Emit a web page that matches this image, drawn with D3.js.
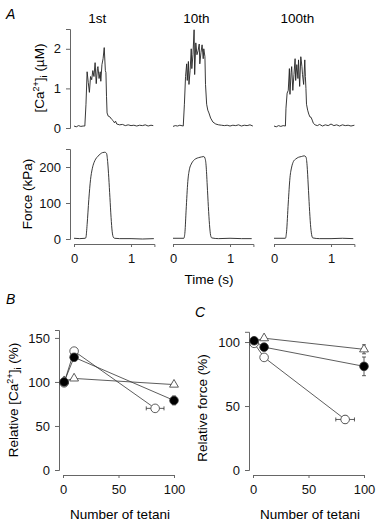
<!DOCTYPE html>
<html>
<head>
<meta charset="utf-8">
<script src="https://cdn.jsdelivr.net/npm/d3@7"></script>
<style>
  body { margin: 0; background: #fff; }
  svg { font-family: "Liberation Sans", Arial, sans-serif; }
  .tick text { font-size: 13px; fill: #111; }
</style>
</head>
<body>
<div id="chart"></div>
<script>
// ---- data ----
var tetaniTitles = ["1st", "10th", "100th"];

// [Ca2+]i traces (time s, µM)
var ca1st = [[0,0.05],[0.04,0.03],[0.08,0.06],[0.12,0.04],[0.16,0.05],[0.19,0.05],[0.21,0.6],[0.23,1.42],[0.25,1.15],[0.27,0.9],[0.29,1.3],[0.31,1.22],[0.33,1.45],[0.35,1.3],[0.37,1.65],[0.39,1.12],[0.41,1.5],[0.42,1.55],[0.44,1.25],[0.46,1.42],[0.47,1.18],[0.49,1.6],[0.51,1.75],[0.53,2.03],[0.55,1.45],[0.56,1.4],[0.57,0.8],[0.58,0.38],[0.6,0.3],[0.63,0.28],[0.66,0.22],[0.69,0.18],[0.71,0.13],[0.73,0.17],[0.75,0.1],[0.8,0.08],[0.85,0.09],[0.9,0.06],[0.95,0.08],[1.0,0.06],[1.05,0.07],[1.1,0.05],[1.15,0.07],[1.2,0.06],[1.25,0.08],[1.3,0.05],[1.35,0.07],[1.39,0.06]];
var ca10th = [[0,0.04],[0.04,0.06],[0.08,0.05],[0.12,0.07],[0.18,0.05],[0.2,0.6],[0.22,1.3],[0.24,1.62],[0.25,1.2],[0.27,1.68],[0.28,1.1],[0.3,1.45],[0.32,2.0],[0.33,1.5],[0.35,1.85],[0.37,2.48],[0.38,1.35],[0.4,2.15],[0.42,1.85],[0.44,1.95],[0.46,2.12],[0.47,1.62],[0.49,1.9],[0.51,2.1],[0.53,1.75],[0.54,2.0],[0.56,1.8],[0.57,1.1],[0.59,0.6],[0.61,0.45],[0.63,0.38],[0.66,0.25],[0.7,0.15],[0.75,0.1],[0.8,0.08],[0.85,0.07],[0.9,0.06],[0.95,0.07],[1.0,0.05],[1.05,0.07],[1.1,0.06],[1.15,0.08],[1.2,0.05],[1.25,0.07],[1.3,0.06],[1.35,0.08],[1.4,0.05]];
var ca100th = [[0,0.05],[0.04,0.03],[0.08,0.06],[0.12,0.04],[0.16,0.06],[0.2,0.05],[0.21,0.5],[0.23,0.88],[0.25,0.95],[0.27,1.5],[0.28,0.85],[0.3,1.4],[0.31,1.55],[0.33,0.95],[0.35,1.35],[0.37,1.75],[0.38,1.2],[0.4,1.6],[0.42,1.25],[0.43,1.72],[0.45,1.05],[0.47,1.8],[0.49,1.55],[0.5,1.35],[0.52,1.1],[0.54,1.72],[0.55,1.3],[0.56,1.0],[0.57,0.6],[0.59,0.45],[0.61,0.35],[0.63,0.28],[0.65,0.27],[0.67,0.2],[0.69,0.12],[0.72,0.08],[0.76,0.06],[0.8,0.09],[0.85,0.05],[0.9,0.08],[0.95,0.06],[1.0,0.1],[1.05,0.06],[1.1,0.08],[1.15,0.05],[1.2,0.08],[1.25,0.06],[1.3,0.07],[1.35,0.05],[1.41,0.07]];

// force traces (time s, kPa)
var force1st = [[0,2],[0.1,1],[0.2,2],[0.21,5],[0.23,40],[0.26,110],[0.29,165],[0.32,195],[0.35,212],[0.38,222],[0.42,230],[0.46,236],[0.5,240],[0.54,241],[0.57,238],[0.59,215],[0.61,170],[0.63,115],[0.65,60],[0.67,20],[0.69,5],[0.71,2],[0.8,1],[1.0,1],[1.2,0],[1.4,1]];
var force10th = [[0,2],[0.19,2],[0.21,20],[0.23,80],[0.26,160],[0.29,195],[0.32,208],[0.36,218],[0.4,223],[0.45,226],[0.5,228],[0.54,229],[0.56,225],[0.58,205],[0.6,150],[0.62,90],[0.64,40],[0.66,10],[0.68,3],[0.8,1],[1.0,2],[1.2,1],[1.38,1]];
var force100th = [[0,2],[0.2,2],[0.22,20],[0.25,100],[0.28,170],[0.31,200],[0.34,215],[0.38,222],[0.43,227],[0.48,229],[0.53,231],[0.56,228],[0.58,205],[0.6,150],[0.62,90],[0.64,40],[0.66,12],[0.68,3],[0.8,1],[1.0,1],[1.2,2],[1.39,1]];

// B & C: number of tetani
var tetaniFilled = [1, 10, 100];
var tetaniOpen = [1, 10, 83];
var tetaniTri = [1, 10, 100];

var caFilled = [100, 128, 79];
var caFilledErr = [0, 4, 5];
var caOpen = [99, 135, 70];
var caOpenErr = [0, 0, 2];
var caOpenXErr = [0, 0, 8];
var caTri = [101, 104, 97];
var caTriErr = [0, 0, 2];

var forceFilled = [101, 96, 81];
var forceFilledErr = [0, 2, 7.3];
var forceOpen = [99, 88, 39.5];
var forceOpenErr = [0, 0, 3];
var forceOpenXErr = [0, 0, 8.4];
var forceTri = [100.5, 103, 94.3];
var forceTriErr = [0, 0, 3.5];

// ---- drawing ----
var svg = d3.select("#chart").append("svg").attr("width", 380).attr("height", 529);
var axisColor = "#666";
var traceColor = "#222";

function styleAxis(g) {
  g.selectAll("path.domain").attr("stroke", axisColor);
  g.selectAll(".tick line").attr("stroke", axisColor);
}

// panel A
var caScale = d3.scaleLinear().domain([0, 2.5]).range([128, 29]);
var forceScale = d3.scaleLinear().domain([0, 250]).range([239, 149]);
var traceX0 = [74, 173, 274];
var caTraces = [ca1st, ca10th, ca100th];
var forceTraces = [force1st, force10th, force100th];

svg.append("text").attr("x", 6).attr("y", 19).attr("font-size", 14).attr("font-style", "italic").text("A");

svg.append("g").attr("transform", "translate(70,0)")
  .call(d3.axisLeft(caScale).tickValues([0, 1, 2]).tickFormat(d3.format("d")).tickSizeOuter(0).tickSize(4).tickPadding(5))
  .call(styleAxis);
svg.append("g").attr("transform", "translate(70,0)")
  .call(d3.axisLeft(forceScale).tickValues([0, 100, 200]).tickSizeOuter(0).tickSize(4).tickPadding(5))
  .call(styleAxis);

var caLabel = svg.append("text").attr("transform", "translate(44,78) rotate(-90)")
  .attr("text-anchor", "middle").attr("font-size", 13.5);
caLabel.append("tspan").text("[Ca");
caLabel.append("tspan").attr("dy", -5).attr("font-size", 9).text("2+");
caLabel.append("tspan").attr("dy", 5).text("]");
caLabel.append("tspan").attr("dy", 3).attr("font-size", 9).text("i");
caLabel.append("tspan").attr("dy", -3).text(" (\u00b5M)");

svg.append("text").attr("transform", "translate(32,194) rotate(-90)")
  .attr("text-anchor", "middle").attr("font-size", 13.5).text("Force (kPa)");

tetaniTitles.forEach(function (title, i) {
  var x = d3.scaleLinear().domain([0, 1.41]).range([traceX0[i], traceX0[i] + 80.4]);

  svg.append("text").attr("x", x(0.41)).attr("y", 23).attr("text-anchor", "middle")
    .attr("font-size", 13.5).text(title);

  svg.append("path").datum(caTraces[i])
    .attr("fill", "none").attr("stroke", traceColor).attr("stroke-width", 0.9)
    .attr("d", d3.line().x(function (d) { return x(d[0]); }).y(function (d) { return caScale(d[1]); }));

  svg.append("path").datum(forceTraces[i])
    .attr("fill", "none").attr("stroke", traceColor).attr("stroke-width", 0.9)
    .attr("d", d3.line().curve(d3.curveMonotoneX).x(function (d) { return x(d[0]); }).y(function (d) { return forceScale(d[1]); }));

  svg.append("g").attr("transform", "translate(0,244)")
    .call(d3.axisBottom(x).tickValues([0, 1]).tickFormat(d3.format("d")).tickSizeOuter(0).tickSize(3).tickPadding(7))
    .call(styleAxis);
});

svg.append("text").attr("x", 209).attr("y", 284).attr("text-anchor", "middle").attr("font-size", 13.5).text("Time (s)");

// panels B and C
function drawSummary(opt) {
  var x = d3.scaleLinear().domain([0, 100]).range([opt.x0, opt.x0 + 111]);
  var y = d3.scaleLinear().domain(opt.yDomain).range([470, opt.yTop]);

  svg.append("text").attr("x", opt.letterX).attr("y", opt.letterY).attr("font-size", 14)
    .attr("font-style", "italic").text(opt.letter);

  svg.append("g").attr("transform", "translate(" + (opt.x0 - 4) + ",0)")
    .call(d3.axisLeft(y).tickValues(opt.yTicks).tickSizeOuter(0).tickSize(4).tickPadding(5))
    .call(styleAxis);
  svg.append("g").attr("transform", "translate(0,475)")
    .call(d3.axisBottom(x).tickValues([0, 50, 100]).tickSizeOuter(0).tickSize(3).tickPadding(7))
    .call(styleAxis);

  svg.append("text").attr("x", opt.x0 + 57).attr("y", 519).attr("text-anchor", "middle")
    .attr("font-size", 13.5).text("Number of tetani");

  opt.label(svg.append("text").attr("transform", "translate(" + opt.labelX + "," + opt.labelY + ") rotate(-90)")
    .attr("text-anchor", "middle").attr("font-size", 13.5));

  var series = opt.series;
  var line = d3.line().x(function (d) { return x(d.x); }).y(function (d) { return y(d.y); });

  series.forEach(function (s) {
    var pts = s.xs.map(function (v, i) { return { x: v, y: s.ys[i], e: s.err[i], xe: s.xerr ? s.xerr[i] : 0 }; });
    s.pts = pts;
    svg.append("path").datum(pts).attr("fill", "none").attr("stroke", "#333").attr("stroke-width", 0.8).attr("d", line);
  });

  series.forEach(function (s) {
    var g = svg.append("g").attr("stroke", "#333").attr("stroke-width", 0.8);
    s.pts.forEach(function (p) {
      if (p.e > 0) {
        g.append("line").attr("x1", x(p.x)).attr("x2", x(p.x)).attr("y1", y(p.y - p.e)).attr("y2", y(p.y + p.e));
        g.append("line").attr("x1", x(p.x) - 2).attr("x2", x(p.x) + 2).attr("y1", y(p.y - p.e)).attr("y2", y(p.y - p.e));
        g.append("line").attr("x1", x(p.x) - 2).attr("x2", x(p.x) + 2).attr("y1", y(p.y + p.e)).attr("y2", y(p.y + p.e));
      }
      if (p.xe > 0) {
        g.append("line").attr("x1", x(p.x - p.xe)).attr("x2", x(p.x + p.xe)).attr("y1", y(p.y)).attr("y2", y(p.y));
        g.append("line").attr("x1", x(p.x - p.xe)).attr("x2", x(p.x - p.xe)).attr("y1", y(p.y) - 2).attr("y2", y(p.y) + 2);
        g.append("line").attr("x1", x(p.x + p.xe)).attr("x2", x(p.x + p.xe)).attr("y1", y(p.y) - 2).attr("y2", y(p.y) + 2);
      }
    });
  });

  series.forEach(function (s) {
    var g = svg.append("g");
    s.pts.forEach(function (p) {
      if (s.shape === "tri") {
        g.append("path").attr("d", d3.symbol().type(d3.symbolTriangle).size(34)())
          .attr("transform", "translate(" + x(p.x) + "," + y(p.y) + ")")
          .attr("fill", "#fff").attr("stroke", "#333").attr("stroke-width", 0.8);
      } else {
        g.append("circle").attr("cx", x(p.x)).attr("cy", y(p.y)).attr("r", 4.3)
          .attr("fill", s.shape === "filled" ? "#000" : "#fff").attr("stroke", "#333").attr("stroke-width", 0.8);
      }
    });
  });
}

drawSummary({
  letter: "B", letterX: 6, letterY: 304,
  x0: 63, yDomain: [0, 159], yTop: 330, yTicks: [0, 50, 100, 150],
  labelX: 18, labelY: 400,
  label: function (t) {
    t.append("tspan").text("Relative [Ca");
    t.append("tspan").attr("dy", -5).attr("font-size", 9).text("2+");
    t.append("tspan").attr("dy", 5).text("]");
    t.append("tspan").attr("dy", 3).attr("font-size", 9).text("i");
    t.append("tspan").attr("dy", -3).text(" (%)");
  },
  series: [
    { shape: "tri", xs: tetaniTri, ys: caTri, err: caTriErr },
    { shape: "open", xs: tetaniOpen, ys: caOpen, err: caOpenErr, xerr: caOpenXErr },
    { shape: "filled", xs: tetaniFilled, ys: caFilled, err: caFilledErr }
  ]
});

drawSummary({
  letter: "C", letterX: 195, letterY: 317,
  x0: 253, yDomain: [0, 108], yTop: 331.8, yTicks: [0, 50, 100],
  labelX: 207, labelY: 408,
  label: function (t) { t.text("Relative force (%)"); },
  series: [
    { shape: "tri", xs: tetaniTri, ys: forceTri, err: forceTriErr },
    { shape: "open", xs: tetaniOpen, ys: forceOpen, err: forceOpenErr, xerr: forceOpenXErr },
    { shape: "filled", xs: tetaniFilled, ys: forceFilled, err: forceFilledErr }
  ]
});
</script>
</body>
</html>
